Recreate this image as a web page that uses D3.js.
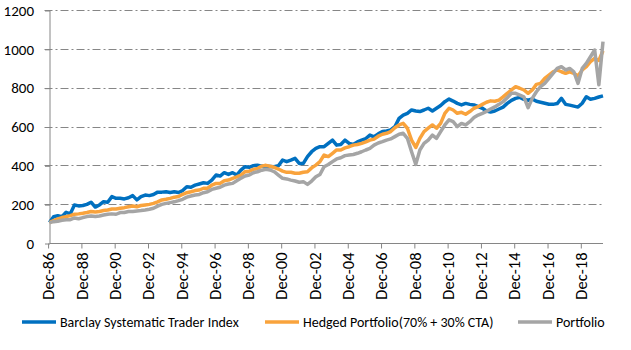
<!DOCTYPE html>
<html>
<head>
<meta charset="utf-8">
<script src="https://cdn.jsdelivr.net/npm/d3@7"></script>
<style>
body { margin: 0; background: #fff; }
svg text { font-family: Carlito, Lato, sans-serif; fill: #000; }
</style>
</head>
<body>
<svg id="chart" width="631" height="350"></svg>
<script>
// quarterly readings, Dec-86 .. Jun-20
var startMonth = new Date(1986, 11, 1);
var endMonth = new Date(2020, 5, 1);
var quarters = d3.timeMonth.every(3).range(startMonth, d3.timeMonth.offset(endMonth, 1));

var tickLabels = ["Dec-86", "Dec-88", "Dec-90", "Dec-92", "Dec-94", "Dec-96", "Dec-98", "Dec-00",
	"Dec-02", "Dec-04", "Dec-06", "Dec-08", "Dec-10", "Dec-12", "Dec-14", "Dec-16", "Dec-18"];
var yTicks = [0, 200, 400, 600, 800, 1000, 1200];
var seriesNames = ["Barclay Systematic Trader Index", "Hedged Portfolio(70% + 30% CTA)", "Portfolio"];

var barclay = [105, 135, 140, 135, 158, 150, 196, 191, 193, 199, 210, 185, 196, 213, 210, 239, 230, 230, 227, 233,
	244, 222, 239, 247, 244, 250, 262, 262, 264, 260, 264, 260, 270, 290, 287, 298, 304, 310, 307, 324,
	350, 345, 362, 353, 362, 350, 375, 393, 390, 398, 401, 396, 395, 394, 393, 398, 427, 419, 427, 436,
	410, 410, 445, 470, 487, 496, 496, 513, 530, 504, 507, 530, 513, 507, 521, 530, 538, 556, 547, 562,
	574, 577, 582, 599, 642, 659, 668, 685, 680, 677, 685, 694, 680, 694, 708, 728, 741, 731, 719, 711,
	719, 714, 711, 702, 694, 680, 675, 680, 690, 700, 719, 735, 745, 750, 740, 735, 742, 730, 725, 720,
	715, 714, 718, 745, 714, 710, 705, 700, 720, 753, 740, 745, 752, 758, 762];

var hedged = [105, 115, 124, 131, 136, 141, 148, 150, 153, 157, 162, 160, 162, 167, 170, 175, 175, 179, 182, 187,
	191, 187, 193, 196, 199, 204, 212, 222, 225, 230, 236, 239, 251, 259, 264, 270, 273, 282, 282, 298,
	307, 307, 321, 324, 333, 341, 350, 367, 370, 379, 384, 396, 400, 395, 390, 381, 370, 364, 364, 359,
	359, 364, 367, 387, 401, 419, 453, 445, 462, 479, 479, 490, 496, 504, 507, 513, 521, 530, 535, 550,
	560, 565, 574, 594, 608, 616, 591, 530, 492, 539, 574, 591, 608, 591, 616, 668, 694, 685, 668, 673,
	663, 677, 694, 702, 714, 725, 732, 730, 736, 753, 771, 788, 805, 797, 788, 771, 788, 817, 822, 848,
	865, 882, 891, 882, 874, 882, 874, 860, 891, 908, 934, 951, 940, 990, 1000];

var portfolio = [105, 110, 112, 117, 120, 120, 129, 125, 131, 136, 139, 136, 139, 144, 148, 150, 148, 157, 157, 162,
	162, 165, 167, 170, 174, 179, 190, 199, 204, 208, 212, 218, 225, 236, 242, 247, 250, 259, 264, 276,
	282, 287, 298, 304, 307, 321, 333, 345, 350, 362, 367, 375, 380, 376, 367, 350, 333, 330, 324, 319,
	313, 316, 302, 319, 341, 353, 393, 404, 419, 433, 439, 450, 453, 456, 462, 470, 479, 487, 504, 515,
	522, 530, 536, 548, 560, 565, 539, 470, 405, 479, 513, 530, 556, 539, 574, 608, 634, 625, 599, 616,
	608, 625, 646, 659, 668, 678, 690, 701, 714, 728, 748, 771, 771, 762, 753, 697, 745, 779, 805, 822,
	848, 874, 899, 908, 891, 899, 882, 822, 899, 925, 959, 994, 815, 1037, 1058];

var colors = ["#0070c0", "#f9a33c", "#a5a5a5"];

var svg = d3.select("#chart");
var plotLeft = 49.5, plotRight = 603, plotTop = 10, plotBottom = 243;

var x = d3.scaleTime()
	.domain([quarters[0], quarters[quarters.length - 1]])
	.range([plotLeft, plotRight]);
var y = d3.scaleLinear()
	.domain([0, 1200])
	.range([plotBottom, plotTop]);

var axisColor = "#868686";

// dash-dot gridlines
svg.append("g")
	.selectAll("line")
	.data(yTicks.slice(1))
	.enter()
	.append("line")
	.attr("x1", plotLeft - 5)
	.attr("x2", plotRight)
	.attr("y1", d => Math.round(y(d)) + 0.5)
	.attr("y2", d => Math.round(y(d)) + 0.5)
	.attr("stroke", axisColor)
	.attr("stroke-dasharray", "8,3,2,3");

var yAxis = svg.append("g")
	.attr("transform", "translate(" + Math.round(plotLeft) + ",0.5)")
	.call(d3.axisLeft(y).tickValues(yTicks).tickFormat(d3.format("d")).tickSize(5).tickPadding(11));
yAxis.selectAll("line").attr("stroke", axisColor);
yAxis.select(".domain").attr("stroke", axisColor).attr("d", "M0," + plotTop + "V" + plotBottom);
yAxis.selectAll("text").attr("font-size", "15px").style("font-family", "Carlito, Lato, sans-serif");

var parseTick = d3.timeParse("%b-%y");
var xAxis = svg.append("g")
	.attr("transform", "translate(0," + (Math.round(plotBottom) + 0.5) + ")")
	.call(d3.axisBottom(x)
		.tickValues(tickLabels.map(parseTick))
		.tickFormat(d3.timeFormat("%b-%y"))
		.tickSize(5));
xAxis.selectAll("line").attr("stroke", axisColor);
xAxis.select(".domain").attr("stroke", axisColor).attr("d", "M" + plotLeft + ",0H" + plotRight);
xAxis.selectAll("text")
	.attr("transform", "rotate(-90)")
	.attr("x", -9)
	.attr("y", 0)
	.attr("dy", "0.35em")
	.attr("font-size", "16.5px")
	.style("text-anchor", "end")
	.style("font-family", "Carlito, Lato, sans-serif");

var line = d3.line()
	.x((d, i) => x(quarters[i]))
	.y(d => y(d));

[barclay, hedged, portfolio].forEach((vals, i) => {
	svg.append("path")
		.datum(vals)
		.attr("d", line)
		.attr("fill", "none")
		.attr("stroke", colors[i])
		.attr("stroke-width", 3.5)
		.attr("stroke-linejoin", "round");
});

// legend
var legendX = [22, 265, 518];
var legend = svg.append("g").attr("transform", "translate(0,322)");
seriesNames.forEach((name, i) => {
	legend.append("line")
		.attr("x1", legendX[i])
		.attr("x2", legendX[i] + 34)
		.attr("stroke", colors[i])
		.attr("stroke-width", 3.5);
	legend.append("text")
		.attr("x", legendX[i] + 38)
		.attr("dy", "0.35em")
		.attr("font-size", "14px")
		.text(name);
});
</script>
</body>
</html>
